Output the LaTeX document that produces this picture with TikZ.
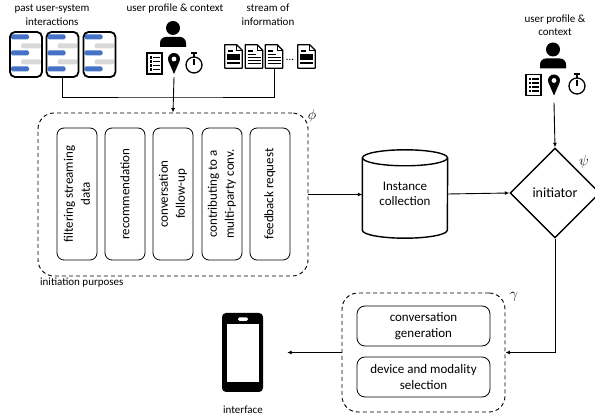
\documentclass[tikz,border=0pt]{standalone}
\usepackage{fontspec}
\setmainfont{Carlito}
\usetikzlibrary{arrows.meta,shapes.geometric,positioning}
\definecolor{chatblue}{HTML}{4472C4}
\definecolor{chatgray}{HTML}{D9D9D9}
\tikzset{
  person/.pic={
    \fill (0,0) circle (7);
    \fill (-13,19) [rounded corners=6pt] -- (-13,9) -- (13,9) [sharp corners] -- (13,19) -- cycle;
  },
  form/.pic={
    \draw[line width=1.3pt] (-7.5,-10.5) rectangle (7.5,10.5);
    \foreach \r in {-6,-2,2,6} {
      \fill (-5,\r-1.2) rectangle (-2.6,\r+1.2);
      \draw[line width=1.6pt] (-1.2,\r) -- (5.2,\r);
    }
  },
  pin/.pic={
    \fill (0,10.5) -- (-5.5,-2.1) arc (156.4:383.6:6) -- cycle;
    \fill[white] (0,-4.5) circle (2.4);
  },
  watch/.pic={
    \draw[line width=1.3pt] (0,2) circle (8);
    \fill (-2.8,-11) rectangle (2.8,-9.3);
    \draw[line width=1.2pt] (0,-9.5) -- (0,-6) (0,2) -- (0,-3.8);
  }
}
\begin{document}
\begin{tikzpicture}[x=1pt,y=-1pt,>={Latex[length=4.5pt,width=4pt]},
  conn/.style={line width=0.9pt},
  shapeline/.style={line width=1.4pt},
  lbl/.style={font=\fontsize{11}{13.5}\selectfont,align=center,inner sep=0},
  chatbox/.style={draw,line width=1.8pt,rounded corners=5pt,minimum width=32pt,minimum height=45pt,inner sep=0},
  docbox/.style={minimum width=17pt,minimum height=23pt,inner sep=0},
  iconbox/.style={minimum width=12pt,minimum height=21pt,inner sep=0},
  dashbox/.style={draw,dashed,line width=0.9pt,dash pattern=on 4pt off 3pt,rounded corners=16pt,inner sep=0},
  purpose/.style={draw,line width=0.8pt,rounded corners=7pt,rotate=90,minimum width=132pt,minimum height=40pt,inner sep=1pt,align=center,font=\fontsize{13}{17}\selectfont},
  genbox/.style={draw,line width=0.8pt,rounded corners=8pt,minimum width=133pt,minimum height=40pt,inner sep=1pt,align=center,font=\fontsize{13}{16}\selectfont},
  greek/.style={font=\fontsize{14}{16}\selectfont,inner sep=0}]
\useasboundingbox (0,0) rectangle (595,419);
% inputs
\node[lbl] (pastlbl) at (52,15) {past user-system\\interactions};
\node[lbl] (proflbl) at (175,9) {user profile \& context};
\node[lbl] (streamlbl) at (268,15) {stream of\\information};
\foreach \i/\x in {1/26,2/62.5,3/99.5} {
  \foreach \y in {-17.5,-1.5,14.5}
    \fill[chatblue,rounded corners=1.5pt] (\x-15,54.5+\y-2.5) rectangle (\x+3,54.5+\y+2.5);
  \foreach \y in {-8.5,7.5}
    \fill[chatgray,rounded corners=1.5pt] (\x-5,54.5+\y-2.5) rectangle (\x+15,54.5+\y+2.5);
  \node[chatbox] (chat\i) at (\x,54.5) {};
}
\pic at (173,28) {person};
\pic at (154.5,63.5) {form};
\node[iconbox] (pinL) at (174,63.5) {};
\pic at (pinL) {pin};
\pic at (194,63) {watch};
\foreach \i/\x/\k in {1/233.5/1,2/254/0,3/274/0,4/306.5/1} {
  \node[docbox] (doc\i) at (\x,56.5) {};
  \draw[line width=1.2pt,line join=round] (doc\i.north west) -- ([xshift=-5.5pt]doc\i.north east) -- ([yshift=-5.5pt]doc\i.north east) -- (doc\i.south east) -- (doc\i.south west) -- cycle;
  \draw[line width=1pt] ([xshift=-5.5pt]doc\i.north east) |- ([yshift=-5.5pt]doc\i.north east);
  \draw[line width=1.2pt] (\x-6,51) -- (\x-1,51);
  \ifnum\k=1
    \fill (\x-6.5,54.5) rectangle (\x+6.5,60);
    \draw[line width=1.3pt] (\x-6.5,63) -- (\x+6.5,63);
  \else
    \draw[line width=1.3pt] (\x-6.5,54.5) -- (\x+2,54.5) (\x-6.5,57.5) -- (\x+6.5,57.5) (\x-6.5,60.5) -- (\x+6.5,60.5) (\x-6.5,63.5) -- (\x+6.5,63.5);
  \fi
}
\node[lbl] (dots) at (290,60) {\dots};
% initiation purposes
\node[dashbox,minimum width=270pt,minimum height=163pt] (purp) at (173,194.5) {};
\foreach \i/\x/\t in {1/77/{filtering streaming\\data},2/125/{recommendation},3/173/{conversation\\follow-up},4/222/{contributing to a\\multi-party conv.},5/270/{feedback request}}
  \node[purpose] (purp\i) at (\x,194) {\t};
\node[lbl,anchor=west] (purplbl) at (40,283) {initiation purposes};
\node[greek] (phi) at (312,116) {$\phi$};
\coordinate (join) at (173,97);
\draw[conn] (chat2.south) |- (join) -| (doc3.south);
\draw[conn,->] ([yshift=-3pt]pinL.south) -- (purp.north);
% instance collection
\node[minimum width=85pt,minimum height=88pt,inner sep=0,align=center,font=\fontsize{13}{15.5}\selectfont] (coll) at (405,194) {Instance\\collection};
\draw[shapeline] ([yshift=-8pt]coll.north) ellipse [x radius=42.5pt,y radius=8pt];
\draw[shapeline] ([yshift=-8pt]coll.north west) -- ([yshift=8pt]coll.south west) arc [start angle=180,end angle=360,x radius=42.5pt,y radius=8pt] -- ([yshift=-8pt]coll.north east);
% initiator
\node[diamond,draw,shapeline,minimum width=90pt,minimum height=90pt,inner sep=0,font=\fontsize{14}{16}\selectfont] (init) at (555,193) {initiator};
\node[greek] (psi) at (584,162) {$\psi$};
\node[lbl] (ctxlbl) at (555,25) {user profile \&\\context};
\pic at (553,49.5) {person};
\pic at (533.5,85) {form};
\node[iconbox] (pinR) at (554,85) {};
\pic at (pinR) {pin};
\pic at (577,84) {watch};
\draw[conn,->] ([yshift=-7pt]pinR.south) -- (init.north);
\draw[conn,->] (purp.east) -- (purp.east -| coll.west);
\draw[conn,->] (coll.east) -- (init.west);
% generation
\node[dashbox,minimum width=163pt,minimum height=119pt] (gen) at (423.5,352.5) {};
\node[genbox] (cgen) at (423.5,326) {conversation\\generation};
\node[genbox] (dsel) at (423.5,377) {device and modality\\selection};
\node[greek] (gamma) at (514,297) {$\gamma$};
\draw[conn,->] (init.south) |- (gen.east);
% interface
\node[fill=black,rounded corners=4pt,minimum width=41pt,minimum height=79pt,inner sep=0] (phone) at (242.5,352.5) {};
\fill[white] (227,324) rectangle (259,382);
\fill[white,rounded corners=1.5pt] (238,317.5) rectangle (248,321);
\draw[conn,->,shorten >=24pt] (gen.west) -- (phone.east);
\node[lbl] (ifacelbl) at (243,410) {interface};
\end{tikzpicture}
\end{document}
